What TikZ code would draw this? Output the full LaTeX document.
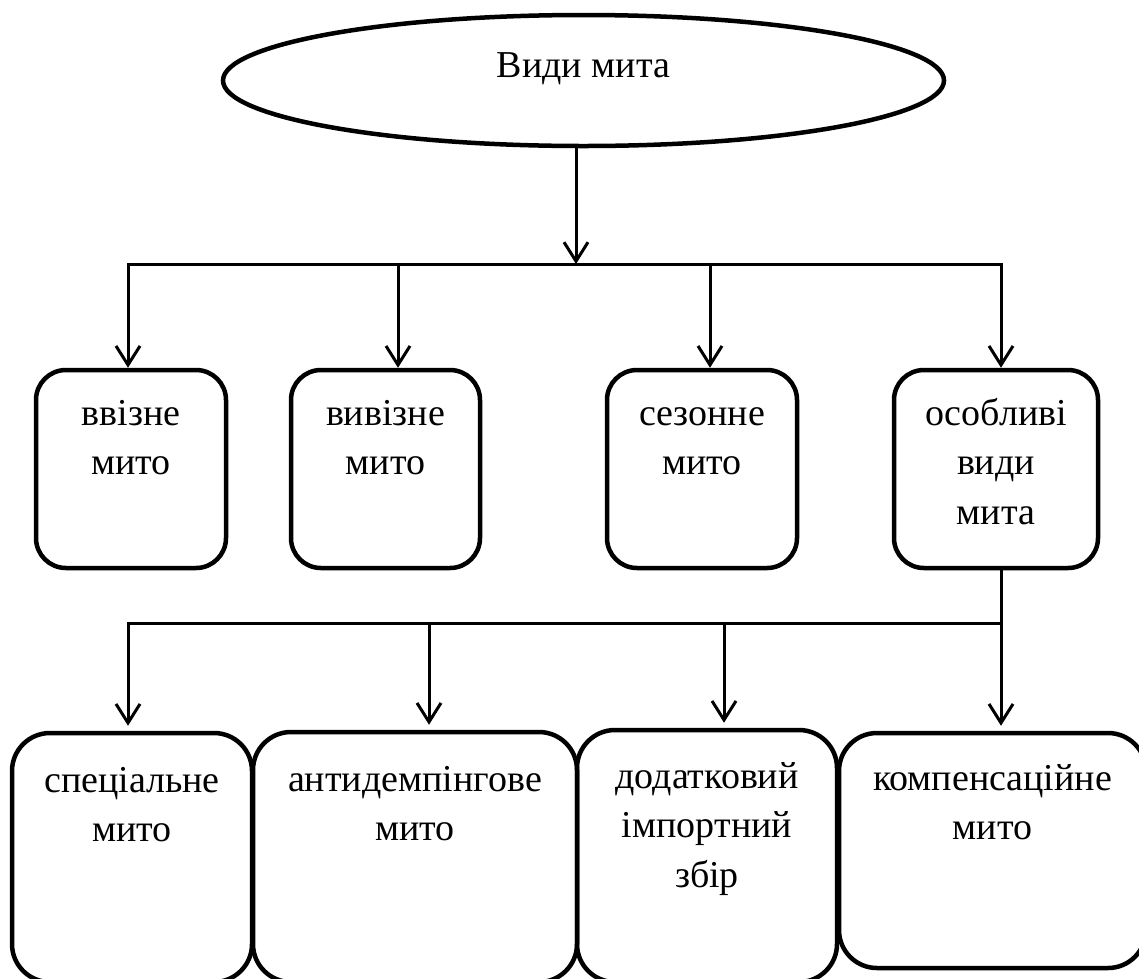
\documentclass[tikz,border=0pt]{standalone}
\usepackage{fontspec}
\setmainfont{Liberation Serif}
\usetikzlibrary{arrows.meta,shapes.geometric}
\newcommand\mybx[4]{\parbox[c][#2pt][t]{#1pt}{\centering\vspace*{#3pt}\strut #4}}
\begin{document}
\begin{tikzpicture}[x=1pt,y=-1pt,
  txt/.style={font=\fontsize{38}{49.5}\selectfont},
  conn/.style={line width=3pt, line cap=rect},
  arr/.style={conn, -{Straight Barb[length=19pt,width=24pt]}},
  box/.style={txt, draw, line width=4.5pt, rounded corners=30pt, inner sep=0pt},
  bbox/.style={box, rounded corners=38pt},
  oval/.style={txt, draw, ellipse, line width=4.5pt, inner sep=0pt, minimum width=721pt, minimum height=131pt, text height=0pt, text depth=7pt}]
\useasboundingbox (0,0) rectangle (1139,978);
% top node
\node[oval] (e) at (583.5,80.5) {Види мита};
% first row
\node[box] (b1) at (131,469) {\mybx{190}{198}{20.35}{ввізне\\мито}};
\node[box] (b2) at (385.5,469) {\mybx{189}{198}{20.35}{вивізне\\мито}};
\node[box] (b3) at (702,469) {\mybx{190}{198}{20.35}{сезонне\\мито}};
\node[box] (b4) at (996,469) {\mybx{204}{198}{20.35}{особливі\\види\\мита}};
% second row
\node[bbox] (c1) at (132,857.5) {\mybx{240}{249}{24.35}{спеціальне\\мито}};
\node[bbox] (c2) at (415,857) {\mybx{324}{250}{24.35}{антидемпінгове\\мито}};
\node[bbox] (c3) at (707,856) {\mybx{260}{252}{23.35}{додатковий\\імпортний\\збір}};
\node[bbox] (c4) at (992.5,850.5) {\mybx{307}{235}{22.35}{компенсаційне\\мито}};
% bus coordinates
\coordinate (hc) at (576,264);
\coordinate (h1) at (128,264);
\coordinate (h2) at (398,264);
\coordinate (h3) at (710,264);
\coordinate (h4) at (1001,264);
\coordinate (g1) at (128,623);
\coordinate (g2) at (429,623);
\coordinate (g3) at (724,623);
\coordinate (g4) at (1001,623);
% connectors
\draw[arr] (e.south -| hc) -- (hc);
\draw[conn] (h1) -- (h4);
\draw[arr] (h1) -- (h1 |- b1.north);
\draw[arr] (h2) -- (h2 |- b2.north);
\draw[arr] (h3) -- (h3 |- b3.north);
\draw[arr] (h4) -- (h4 |- b4.north);
\draw[conn] (b4.south -| g4) -- (g4) -- (g1);
\draw[arr, shorten >=5pt] (g1) -- (g1 |- c1.north);
\draw[arr, shorten >=5pt] (g2) -- (g2 |- c2.north);
\draw[arr, shorten >=5pt] (g3) -- (g3 |- c3.north);
\draw[arr, shorten >=5pt] (g4) -- (g4 |- c4.north);
\end{tikzpicture}
\end{document}
